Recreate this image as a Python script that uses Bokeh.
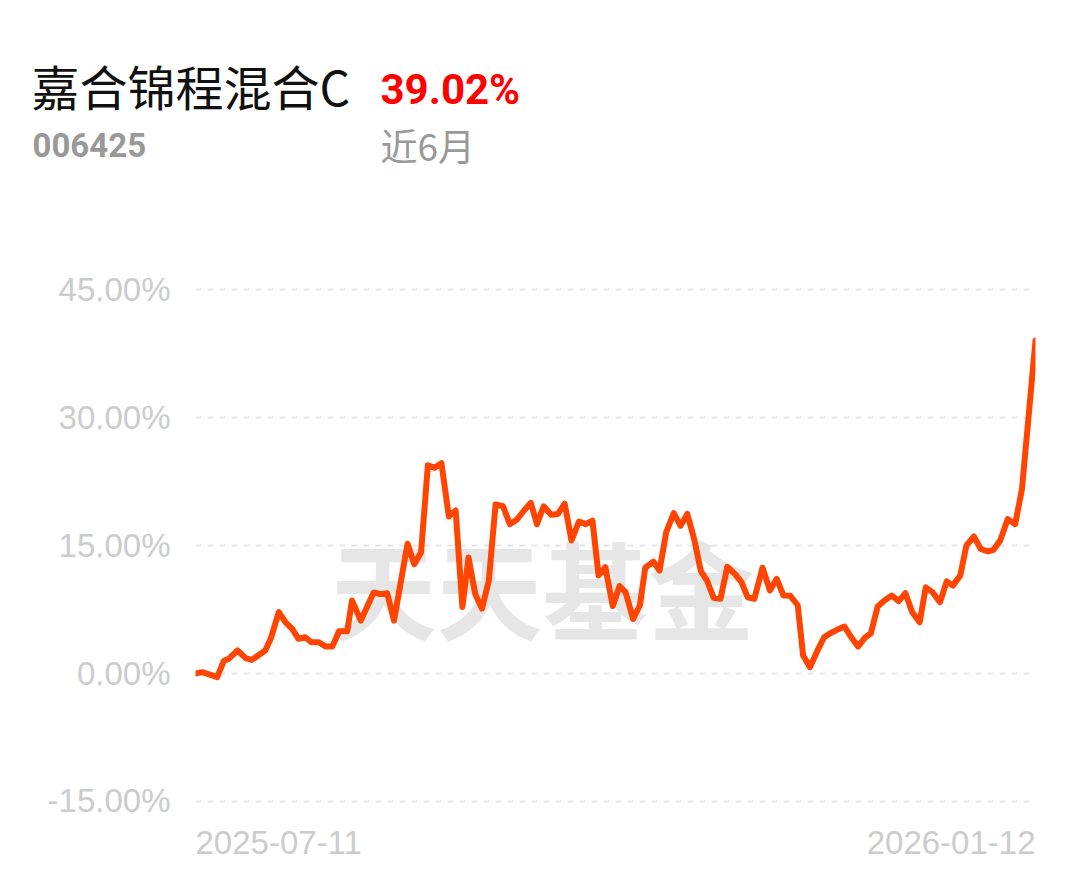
from bokeh.plotting import figure
from bokeh.layouts import column
from bokeh.models import Label, FixedTicker, PrintfTickFormatter, Range1d
from bokeh.embed import file_html
from bokeh.resources import INLINE

# ---- data (trading-day index since 2025-07-11, cumulative return %) ----
day_index = [0.0, 1.0, 3.2, 4.2, 4.9, 6.2, 7.4, 8.3, 10.3, 11.1, 12.3, 13.3, 14.3, 15.2,
             16.2, 17.1, 18.2, 19.2, 20.2, 21.2, 22.4, 23.1, 24.4, 26.3, 27.3, 28.3, 29.3,
             31.3, 32.3, 33.3, 34.3, 35.3, 36.3, 37.4, 38.4, 39.4, 40.3, 41.3, 42.3, 43.3,
             44.3, 45.4, 46.4, 47.4, 48.5, 49.5, 50.4, 51.4, 52.5, 53.5, 54.5, 55.5, 56.6,
             57.6, 58.6, 59.5, 60.5, 61.6, 62.6, 63.5, 64.6, 65.6, 66.4, 67.6, 68.5, 69.5,
             70.6, 71.6, 72.6, 73.6, 74.6, 75.5, 76.5, 77.5, 78.5, 79.6, 80.6, 81.5, 82.5,
             83.7, 84.8, 85.8, 86.8, 87.8, 88.9, 89.7, 90.7, 91.7, 92.8, 93.7, 94.7, 95.8,
             96.8, 97.8, 98.8, 99.7, 100.7, 101.7, 102.8, 103.8, 104.8, 105.8, 106.9, 107.8,
             108.8, 109.9, 110.9, 111.8, 112.9, 113.8, 114.9, 115.9, 117.0, 117.8, 118.8,
             119.9, 121.0, 122.0, 123.0, 124.0]
returns = [0.00, 0.16, -0.43, 1.50, 1.72, 2.70, 1.80, 1.60, 2.70, 4.07, 7.20, 6.00, 5.20, 4.07,
           4.25, 3.67, 3.67, 3.16, 3.16, 4.96, 4.96, 8.55, 6.20, 9.50, 9.30, 9.40, 6.20,
           15.20, 12.80, 14.20, 24.40, 24.10, 24.65, 18.40, 19.10, 7.80, 13.60, 9.30, 7.60, 10.90,
           19.80, 19.60, 17.50, 18.00, 19.10, 20.00, 17.50, 19.60, 18.60, 18.70, 19.90, 15.60, 17.80,
           17.50, 17.90, 11.50, 12.45, 7.90, 10.25, 9.50, 6.40, 8.00, 12.40, 13.10, 12.07, 16.60,
           18.80, 17.30, 18.70, 15.80, 12.00, 10.90, 8.87, 8.75, 12.50, 11.70, 10.70, 8.94, 8.75,
           12.40, 9.73, 11.10, 9.14, 9.10, 8.00, 2.10, 0.74, 2.50, 4.25, 4.72, 5.12, 5.50,
           4.25, 3.16, 4.18, 4.72, 7.85, 8.55, 9.14, 8.48, 9.41, 7.19, 6.00, 10.10,
           9.53, 8.36, 10.80, 10.30, 11.50, 15.00, 16.05, 14.60, 14.30, 14.50, 15.60,
           18.10, 17.50, 21.60, 30.30, 39.02]
y_ticks = [-15, 0, 15, 30, 45]
start_label = "2025-07-11"
end_label = "2026-01-12"
fund_name = "嘉合锦程混合C"
fund_code = "006425"
period_return = "39.02%"
period_name = "近6月"
watermark = "天天基金"


def no_align(f):
    if "frame_align" in f.properties():
        f.frame_align = False


def blank(height, left=0, right=0, x_range=None):
    f = figure(width=1080, height=height, output_backend="svg", toolbar_location=None,
               x_range=x_range if x_range is not None else Range1d(0, 1),
               y_range=Range1d(0, 1), x_axis_location=None, y_axis_location=None,
               min_border_left=left, min_border_right=right, min_border_top=0,
               min_border_bottom=0)
    f.outline_line_color = None
    f.grid.visible = False
    f.background_fill_color = "white"
    f.border_fill_color = "white"
    no_align(f)
    return f


xr = Range1d(day_index[0], day_index[-1])

# ---- header ----
head = blank(260)
head.add_layout(Label(x=31, y=176, x_units="screen", y_units="screen", text=fund_name,
                      text_align="left", text_baseline="alphabetic", text_color="#111111",
                      text_font="Noto Sans CJK SC", text_font_size="48px"))
head.add_layout(Label(x=380, y=171, x_units="screen", y_units="screen", text=period_return,
                      text_align="left", text_baseline="alphabetic", text_color="#ff0000",
                      text_font="Roboto", text_font_style="bold", text_font_size="42px"))
head.add_layout(Label(x=32, y=116, x_units="screen", y_units="screen", text=fund_code,
                      text_align="left", text_baseline="alphabetic", text_color="#999999",
                      text_font="Roboto", text_font_style="bold", text_font_size="33px"))
head.add_layout(Label(x=380, y=116, x_units="screen", y_units="screen", text=period_name,
                      text_align="left", text_baseline="alphabetic", text_color="#999999",
                      text_font="Noto Sans CJK SC", text_font_size="37px"))

# ---- main chart ----
p = figure(width=1080, height=558, output_backend="svg", toolbar_location=None,
           x_range=xr, y_range=Range1d(-16.05, 46.05),
           min_border_left=195, min_border_right=45, min_border_top=20, min_border_bottom=8)
p.outline_line_color = None
p.background_fill_color = "white"
p.border_fill_color = "white"
no_align(p)

p.xaxis.visible = False
yax = p.yaxis[0]
yax.ticker = FixedTicker(ticks=y_ticks)
yax.formatter = PrintfTickFormatter(format="%.2f%%")
yax.axis_line_color = None
yax.major_tick_line_color = None
yax.minor_tick_line_color = None
yax.major_tick_out = 0
yax.major_tick_in = 0
yax.major_label_standoff = 25
yax.major_label_text_color = "#cccccc"
yax.major_label_text_font = "Liberation Sans"
yax.major_label_text_font_size = "33px"

p.xgrid.visible = False
p.ygrid.ticker = FixedTicker(ticks=y_ticks)
p.ygrid.grid_line_color = "#e6e6e6"
p.ygrid.grid_line_width = 2
p.ygrid.grid_line_dash = "6 6"

p.add_layout(Label(x=347, y=225, x_units="screen", y_units="screen", text=watermark,
                   text_align="center", text_baseline="middle", text_color="#e6e6e6",
                   text_font="Noto Sans CJK SC", text_font_style="bold",
                   text_font_size="106px", level="image"))

p.line(day_index, returns, line_color="#ff4500", line_width=6,
       line_join="round", line_cap="round")

# ---- footer with date labels ----
foot = blank(60, left=195, right=45, x_range=xr)
foot.add_layout(Label(x=day_index[0], y=36, x_units="data", y_units="screen", text=start_label,
                      text_align="left", text_baseline="alphabetic", text_color="#cccccc",
                      text_font="Liberation Sans", text_font_size="33px"))
foot.add_layout(Label(x=day_index[-1], y=36, x_units="data", y_units="screen", text=end_label,
                      text_align="right", text_baseline="alphabetic", text_color="#cccccc",
                      text_font="Liberation Sans", text_font_size="33px"))

layout = column(head, p, foot, spacing=0)
open("out.html", "w").write(file_html(layout, INLINE))
